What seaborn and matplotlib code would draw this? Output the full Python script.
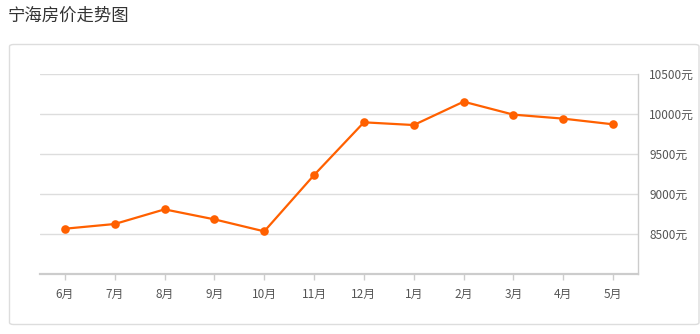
import matplotlib
matplotlib.use("Agg")
import matplotlib.pyplot as plt
from matplotlib.patches import FancyBboxPatch
import seaborn as sns
import pandas as pd

months = ["6月", "7月", "8月", "9月", "10月", "11月", "12月", "1月", "2月", "3月", "4月", "5月"]
prices = [8566, 8625, 8808, 8683, 8533, 9237, 9896, 9862, 10154, 9992, 9942, 9871]
yticks = [8500, 9000, 9500, 10000, 10500]
ytick_labels = ["8500元", "9000元", "9500元", "10000元", "10500元"]
title = "宁海房价走势图"

sns.set_theme(style="white")
plt.rcParams['font.family'] = ['Noto Sans CJK SC', 'DejaVu Sans']

W, H = 700, 334
fig = plt.figure(figsize=(W / 100, H / 100), dpi=100)

# outer rounded frame
frame = FancyBboxPatch((9.5 / W, (H - 324.5) / H), (699 - 9.5) / W, (324.5 - 44.5) / H,
                       boxstyle="round,pad=0,rounding_size=0.006",
                       transform=fig.transFigure, facecolor="none",
                       edgecolor="#dddddd", linewidth=1.0, zorder=-1)
fig.patches.append(frame)

fig.text(8 / W, 1 - 16 / H, title, fontsize=12.5, color="#333333", va="center", ha="left")

ax = fig.add_axes([40 / W, (H - 274) / H, (638 - 40) / W, (274 - 74) / H])
ax.set_facecolor("none")

df = pd.DataFrame({"idx": range(len(months)), "price": prices})
sns.lineplot(data=df, x="idx", y="price", ax=ax, color="#ff6000", linewidth=1.6,
             marker="o", markersize=6.2, markeredgewidth=0, sort=False, zorder=5)

ax.set_xlim(-0.5, len(months) - 0.5)
ax.set_ylim(8000, 10500)
ax.set_xticks(range(len(months)))
ax.set_xticklabels(months)
ax.set_yticks(yticks)
ax.set_yticklabels(ytick_labels)
ax.yaxis.tick_right()
ax.set_xlabel("")
ax.set_ylabel("")

for v in yticks:
    ax.axhline(v, color="#dddddd", linewidth=1.0, zorder=1)

for s in ["top", "left"]:
    ax.spines[s].set_visible(False)
ax.spines["bottom"].set_color("#cccccc")
ax.spines["bottom"].set_linewidth(1.6)
ax.spines["right"].set_color("#cccccc")
ax.spines["right"].set_linewidth(1.0)

ax.tick_params(axis="x", which="both", bottom=True, length=4, width=1, color="#cccccc",
               labelsize=8.5, labelcolor="#555555", pad=6)
ax.tick_params(axis="y", which="both", right=False, left=False, length=0,
               labelsize=8.5, labelcolor="#555555", pad=8)

fig.savefig("out.png", dpi=100)
